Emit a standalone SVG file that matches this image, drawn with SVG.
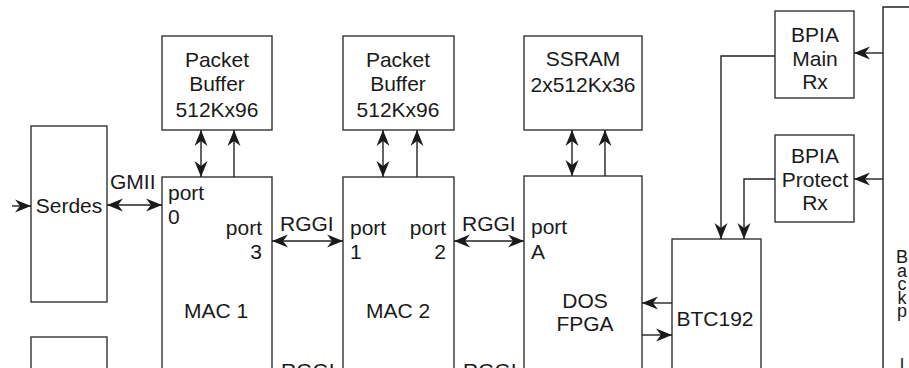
<svg xmlns="http://www.w3.org/2000/svg" width="909" height="368" viewBox="0 0 909 368">
<style>
.box{fill:#fff;stroke:#333;stroke-width:1.4}
.t{font-family:"Liberation Sans",Arial,sans-serif;font-size:21px;fill:#1a1a1a}
.m{text-anchor:middle}
.e{text-anchor:end}
.ln{fill:none;stroke:#222;stroke-width:1.4}
</style>
<defs>
<marker id="ah" viewBox="0 -7 16 14" refX="16" refY="0" markerWidth="16" markerHeight="14" markerUnits="userSpaceOnUse" orient="auto-start-reverse">
<path d="M0,-6.5 L16,0 L0,6.5 L5,0 Z" fill="#1a1a1a"/>
</marker>
</defs>
<rect width="909" height="368" fill="#fff"/>
<g id="serdes">
<rect class="box" x="31" y="126" width="76" height="176"/>
<text class="t m" x="69" y="213">Serdes</text>
</g>
<g id="serdes2">
<rect class="box" x="31" y="337" width="76" height="60"/>
</g>
<g id="pb1">
<rect class="box" x="162" y="36" width="110" height="94"/>
<text class="t m" x="217"><tspan x="217" y="67">Packet</tspan><tspan x="217" y="91">Buffer</tspan><tspan x="217" y="117">512Kx96</tspan></text>
</g>
<g id="pb2">
<rect class="box" x="343" y="36" width="111" height="94"/>
<text class="t m" x="398"><tspan x="398" y="67">Packet</tspan><tspan x="398" y="91">Buffer</tspan><tspan x="398" y="117">512Kx96</tspan></text>
</g>
<g id="ssram">
<rect class="box" x="524" y="36" width="118" height="94"/>
<text class="t m" x="583"><tspan x="583" y="66">SSRAM</tspan><tspan x="583" y="92">2x512Kx36</tspan></text>
</g>
<g id="mac1">
<rect class="box" x="162" y="177" width="110" height="220"/>
<text class="t"><tspan x="168" y="200">port</tspan><tspan x="168" y="224">0</tspan></text>
<text class="t e"><tspan x="262" y="235">port</tspan><tspan x="262" y="259">3</tspan></text>
<text class="t m" x="216" y="318">MAC 1</text>
</g>
<g id="mac2">
<rect class="box" x="343" y="177" width="111" height="220"/>
<text class="t"><tspan x="350" y="235">port</tspan><tspan x="350" y="259">1</tspan></text>
<text class="t e"><tspan x="446" y="235">port</tspan><tspan x="446" y="259">2</tspan></text>
<text class="t m" x="398" y="318">MAC 2</text>
</g>
<g id="dos">
<rect class="box" x="524" y="176" width="118" height="221"/>
<text class="t"><tspan x="531" y="234">port</tspan><tspan x="531" y="259">A</tspan></text>
<text class="t m"><tspan x="585" y="308">DOS</tspan><tspan x="585" y="331">FPGA</tspan></text>
</g>
<g id="btc">
<rect class="box" x="672" y="239" width="89" height="160"/>
<text class="t m" x="715" y="326">BTC192</text>
</g>
<g id="bpiamain">
<rect class="box" x="775" y="11" width="79" height="87"/>
<text class="t m"><tspan x="815" y="42">BPIA</tspan><tspan x="815" y="66">Main</tspan><tspan x="815" y="89">Rx</tspan></text>
</g>
<g id="bpiaprot">
<rect class="box" x="775" y="135" width="79" height="87"/>
<text class="t m"><tspan x="815" y="163">BPIA</tspan><tspan x="815" y="187">Protect</tspan><tspan x="815" y="210">Rx</tspan></text>
</g>
<g id="backplane">
<path class="ln" d="M910,7 H883 V370"/>
<text class="t m" style="font-size:18px"><tspan x="902" y="263">B</tspan><tspan x="902" y="277">a</tspan><tspan x="902" y="290">c</tspan><tspan x="902" y="304">k</tspan><tspan x="902" y="317">p</tspan><tspan x="902" y="371">l</tspan></text>
</g>
<g id="connectors">
<line class="ln" x1="12" y1="206" x2="31" y2="206" marker-end="url(#ah)"/>
<line class="ln" x1="107" y1="205" x2="162" y2="205" marker-start="url(#ah)" marker-end="url(#ah)"/>
<line class="ln" x1="272" y1="241" x2="343" y2="241" marker-start="url(#ah)" marker-end="url(#ah)"/>
<line class="ln" x1="454" y1="241" x2="524" y2="241" marker-start="url(#ah)" marker-end="url(#ah)"/>
<line class="ln" x1="201" y1="130" x2="201" y2="177" marker-start="url(#ah)" marker-end="url(#ah)"/>
<line class="ln" x1="234" y1="177" x2="234" y2="130" marker-end="url(#ah)"/>
<line class="ln" x1="383" y1="130" x2="383" y2="177" marker-start="url(#ah)" marker-end="url(#ah)"/>
<line class="ln" x1="417" y1="177" x2="417" y2="130" marker-end="url(#ah)"/>
<line class="ln" x1="572" y1="130" x2="572" y2="176" marker-start="url(#ah)" marker-end="url(#ah)"/>
<line class="ln" x1="605" y1="176" x2="605" y2="130" marker-end="url(#ah)"/>
<line class="ln" x1="672" y1="303" x2="642" y2="303" marker-end="url(#ah)"/>
<line class="ln" x1="642" y1="335" x2="672" y2="335" marker-end="url(#ah)"/>
<line class="ln" x1="883" y1="53" x2="854" y2="53" marker-end="url(#ah)"/>
<line class="ln" x1="883" y1="179" x2="854" y2="179" marker-end="url(#ah)"/>
<path class="ln" d="M775,56 H721 V239" marker-end="url(#ah)"/>
<path class="ln" d="M775,179 H744 V239" marker-end="url(#ah)"/>
<text class="t" x="110" y="189">GMII</text>
<text class="t" x="280" y="231">RGGI</text>
<text class="t" x="462" y="231">RGGI</text>
<text class="t" x="281" y="378">RGGI</text>
<text class="t" x="463" y="378">RGGI</text>
</g>
</svg>
